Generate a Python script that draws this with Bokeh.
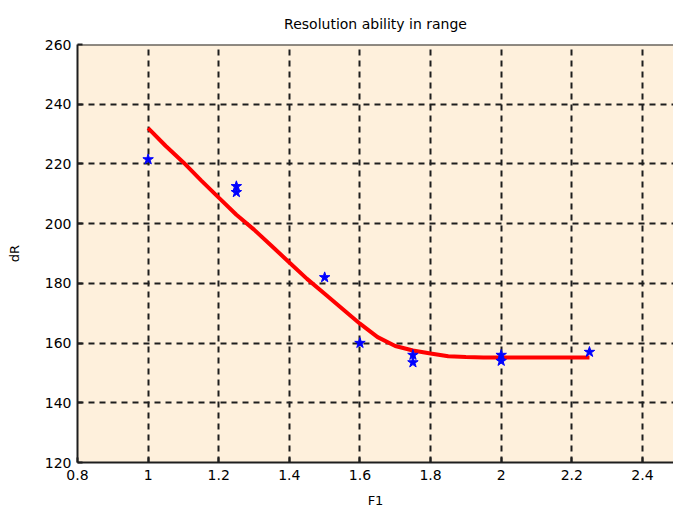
from bokeh.plotting import figure
from bokeh.models import (FixedTicker, NumeralTickFormatter, Range1d, Title,
                          Span)
from bokeh.embed import file_html
from bokeh.resources import INLINE

# measured resolution in range versus F1
fi_meas = [1.0, 1.25, 1.25, 1.5, 1.6, 1.75, 1.75, 2.0, 2.0, 2.25]
dr_meas = [221.5, 212.5, 210.5, 182.0, 160.0, 156.0, 153.5, 156.0, 154.0, 157.0]

# smoothed fit curve
fi_fit = [1.0, 1.05, 1.1, 1.15, 1.2, 1.25, 1.3, 1.35, 1.4, 1.45, 1.5, 1.55,
          1.6, 1.65, 1.7, 1.75, 1.8, 1.85, 1.9, 1.95, 2.0, 2.05, 2.1, 2.15,
          2.2, 2.25]
dr_fit = [232.0, 226.0, 220.5, 214.5, 208.7, 203.0, 198.0, 192.5, 187.0,
          181.5, 176.5, 171.5, 166.5, 162.0, 159.0, 157.5, 156.5, 155.6,
          155.3, 155.2, 155.2, 155.2, 155.2, 155.2, 155.2, 155.2]

x_ticks = [0.8, 1.0, 1.2, 1.4, 1.6, 1.8, 2.0, 2.2, 2.4]
y_ticks = [120, 140, 160, 180, 200, 220, 240, 260]

FONT = "DejaVu Sans"
INK = "#1e1e1e"

p = figure(width=673, height=510,
           x_range=Range1d(0.8, 2.488), y_range=Range1d(120, 260),
           output_backend="svg", toolbar_location=None,
           min_border_left=77, min_border_right=0,
           min_border_top=43, min_border_bottom=47,
           background_fill_color="#FEF0DC", border_fill_color="white",
           outline_line_color=None)

p.title = Title(text="Resolution ability in range", align="center",
                text_font=FONT, text_font_size="14px", standoff=26,
                text_font_style="normal", text_color="black")

def style_axis(ax, ticks):
    ax.ticker = FixedTicker(ticks=ticks)
    ax.axis_line_color = INK
    ax.axis_line_width = 2
    ax.major_tick_line_color = INK
    ax.major_tick_line_width = 2
    ax.major_tick_in = 5
    ax.major_tick_out = 0
    ax.minor_tick_line_color = None
    ax.major_label_text_font = FONT
    ax.major_label_text_font_size = "14px"
    ax.major_label_text_color = "black"
    ax.axis_label_text_font = FONT
    ax.axis_label_text_font_size = "13px"
    ax.axis_label_text_font_style = "normal"
    ax.axis_label_text_color = "black"

style_axis(p.xaxis[0], x_ticks)
style_axis(p.yaxis[0], y_ticks)
p.xaxis[0].formatter = NumeralTickFormatter(format="0.[0]")
p.xaxis[0].major_label_standoff = 7
p.xaxis[0].axis_label_standoff = 10
p.xaxis[0].axis_label = "F1"
p.yaxis[0].major_label_standoff = 6
p.yaxis[0].axis_label_standoff = 20
p.yaxis[0].axis_label = "dR"

# top border of the box
p.add_layout(Span(location=260, dimension="width", line_color=INK,
                  line_width=2))

for g, t in ((p.xgrid, x_ticks), (p.ygrid, y_ticks)):
    g.ticker = FixedTicker(ticks=t)
    g.grid_line_color = INK
    g.grid_line_width = 2
    g.grid_line_dash = "6 5"

p.line(fi_fit, dr_fit, line_color="red", line_width=4)
p.scatter(fi_meas, dr_meas, marker="star", size=11,
          fill_color="blue", line_color="blue", line_width=1)

open("out.html", "w").write(file_html(p, INLINE))
